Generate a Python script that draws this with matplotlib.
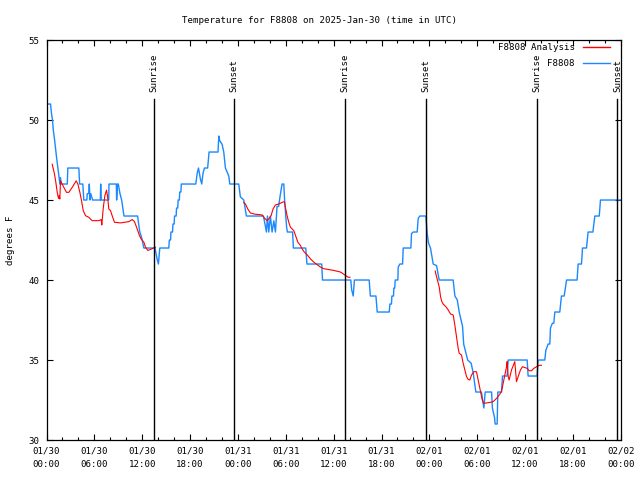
import matplotlib
matplotlib.use('Agg')
import pandas as pd
from matplotlib import pyplot, dates, transforms

# hours after 2025-01-30 00:00 UTC
start = pd.Timestamp('2025-01-30 00:00')

obs_hours = [
    0.0, 0.5, 0.6, 0.75, 0.84, 1.0, 1.13, 1.25, 1.38, 1.55, 1.67, 1.75, 1.85,
    2.6, 2.67, 4.05, 4.15, 4.55, 4.67, 5.05, 5.11, 5.3, 5.36, 5.45, 5.55, 5.78,
    6.75, 6.79, 6.85, 7.8, 7.83, 8.75, 8.79, 8.9, 9.0, 9.21, 9.42, 9.71,
    11.42, 11.6, 11.7, 11.9, 12.2, 13.6, 13.87, 14.03, 14.2,
    15.33, 15.4, 15.55, 15.6, 15.8, 15.85, 16.0, 16.05, 16.25, 16.3, 16.45,
    16.5, 16.65, 16.7, 16.85, 16.9,
    18.71, 18.9, 19.05, 19.3, 19.46, 19.63, 19.8, 20.2, 20.38,
    21.5, 21.6, 21.72, 22.0, 22.22, 22.43, 22.85, 22.98,
    24.1, 24.3, 24.73, 25.06, 27.2, 27.57, 27.7, 27.86, 28.07, 28.28, 28.5, 28.7,
    28.9, 29.1, 29.3, 29.53, 29.75, 29.85, 30.1, 30.2, 30.85, 30.95,
    32.5, 32.65, 34.5, 34.6, 38.15, 38.25, 38.45, 38.6,
    40.45, 40.6, 41.3, 41.46, 42.97, 43.05, 43.25, 43.3, 43.5, 43.55, 43.65,
    43.72, 44.05, 44.09, 44.3, 44.64, 44.72, 45.68, 45.76, 45.97, 46.47, 46.6,
    46.8, 47.56, 47.73, 47.9, 48.14, 48.48, 48.9, 49.23,
    50.98, 51.2, 51.5, 51.74, 52.16, 52.3, 52.8, 53.24, 53.49, 53.83,
    54.53, 54.83, 55.0, 55.8, 55.9, 56.17, 56.25, 56.5, 56.58, 57.04, 57.17,
    57.75, 57.88, 60.26, 60.38, 61.51, 61.64, 62.47, 62.6, 62.89, 63.1, 63.18,
    63.43, 63.6, 63.73, 64.35, 64.56, 64.9, 65.2, 66.52, 66.65, 67.07, 67.2,
    67.7, 67.9, 68.5, 68.74, 69.3, 69.45, 72.0,
]
obs_temp = [
    51, 51, 50.5, 50.0, 49.4, 48.8, 48.2, 47.7, 47.2, 46.5, 46.0, 46.4, 46.0,
    46.0, 47.0, 47.0, 46.0, 46.0, 45.0, 45.0, 45.4, 45.4, 46.0, 45.0, 45.4, 45.0,
    45.0, 46.0, 45.0, 45.0, 46.0, 46.0, 45.0, 46.0, 46.0, 45.4, 45.0, 44.0,
    44.0, 43.3, 43.0, 42.7, 42.0, 42.0, 41.3, 41.0, 42.0,
    42.0, 42.5, 42.5, 43.0, 43.0, 43.5, 43.5, 44.0, 44.0, 44.5, 44.5,
    45.0, 45.0, 45.5, 45.5, 46.0,
    46.0, 46.7, 47.0, 46.3, 46.0, 46.7, 47.0, 47.0, 48.0,
    48.0, 49.0, 48.7, 48.5, 48.0, 47.0, 46.5, 46.0,
    46.0, 45.2, 45.0, 44.0, 44.0, 43.0, 44.0, 43.0, 44.0, 43.0, 43.7, 43.0,
    44.6, 44.6, 45.3, 46.0, 46.0, 45.0, 43.3, 43.0, 43.0, 42.0,
    42.0, 41.0, 41.0, 40.0, 40.0, 39.4, 39.0, 40.0,
    40.0, 39.0, 39.0, 38.0, 38.0, 38.5, 38.5, 39.0, 39.0, 39.5, 39.5,
    40.0, 40.0, 40.8, 41.0, 41.0, 42.0, 42.0, 42.9, 43.0, 43.0, 43.85,
    44.0, 44.0, 42.9, 42.3, 42.0, 41.0, 40.9, 40.0,
    40.0, 39.0, 38.75, 38.0, 37.1, 36.0, 35.0, 34.8, 34.2, 33.0,
    33.0, 32.0, 33.0, 33.0, 32.0, 31.4, 31.0, 31.0, 33.0, 33.0, 34.0,
    34.0, 35.0, 35.0, 34.0, 34.0, 35.0, 35.0, 35.6, 36.0, 36.0, 37.0,
    37.3, 37.3, 38.0, 38.0, 39.0, 39.0, 40.0, 40.0, 41.0, 41.0, 42.0,
    42.0, 43.0, 43.0, 44.0, 44.0, 45.0, 45.0,
]

# analysis series, three night-time pieces
ana_hours = [
    [0.71, 1.0, 1.17, 1.34, 1.5, 1.59, 1.67, 1.75, 1.96, 2.17, 2.5, 2.8, 3.22,
     3.72, 3.93, 4.18, 4.39, 4.6, 4.89, 5.3, 5.72, 6.56, 6.85, 6.93, 7.1, 7.31,
     7.52, 7.64, 7.81, 8.02, 8.23, 8.52, 9.27, 10.32, 10.74, 11.03, 11.36,
     11.65, 11.86, 12.2, 12.41, 12.7, 13.03, 13.37, 13.66],
    [24.73, 24.94, 25.23, 25.56, 26.19, 27.03, 27.23, 27.65, 27.86, 28.15,
     28.4, 28.7, 29.11, 29.53, 29.82, 29.95, 30.16, 30.37, 30.58, 31.0, 31.29,
     31.5, 31.83, 32.04, 32.33, 32.67, 33.08, 33.5, 34.34, 34.75, 36.0, 36.84,
     36.99, 37.41, 37.83, 38.04],
    [48.73, 48.9, 49.23, 49.4, 49.56, 49.73, 50.07, 50.36, 50.65, 50.99, 51.19,
     51.4, 51.61, 51.74, 52.03, 52.24, 52.45, 52.66, 52.86, 53.07, 53.28, 53.58,
     53.91, 54.12, 54.33, 54.54, 54.66, 54.83, 55.58, 56.0, 56.42, 56.75, 57.04,
     57.25, 57.46, 57.67, 57.75, 57.88, 58.0, 58.3, 58.71, 58.92, 59.13, 59.42,
     59.67, 60.26, 60.51, 60.8, 61.1, 61.43, 61.76, 62.05],
]
ana_temp = [
    [47.24, 46.62, 46.1, 45.48, 45.1, 45.27, 45.06, 46.2, 46.0, 45.79, 45.48,
     45.48, 45.79, 46.2, 46.0, 45.48, 44.96, 44.34, 44.02, 43.92, 43.71, 43.71,
     43.78, 43.44, 44.44, 45.27, 45.62, 45.27, 44.44, 44.34, 44.02, 43.61,
     43.57, 43.65, 43.78, 43.65, 43.2, 42.78, 42.57, 42.37, 42.05, 41.85,
     41.91, 41.99, 42.05],
    [44.85, 44.75, 44.44, 44.19, 44.11, 44.07, 43.92, 43.71, 43.82, 44.02,
     44.44, 44.69, 44.75, 44.85, 44.9, 44.54, 44.02, 43.61, 43.3, 43.09, 42.68,
     42.37, 42.16, 41.95, 41.74, 41.58, 41.33, 41.12, 40.81, 40.71, 40.6, 40.5,
     40.46, 40.31, 40.17, 40.17],
    [40.56, 40.21, 39.58, 38.96, 38.65, 38.5, 38.33, 38.13, 37.88, 37.81, 37.19,
     36.46, 35.73, 35.42, 35.31, 34.79, 34.38, 33.96, 33.79, 33.75, 34.06, 34.27,
     34.27, 33.75, 33.23, 32.71, 32.46, 32.29, 32.35, 32.4, 32.6, 32.81, 33.02,
     33.54, 34.06, 34.58, 34.9, 33.96, 33.75, 34.38, 34.9, 33.65, 33.96, 34.38,
     34.58, 34.48, 34.33, 34.33, 34.48, 34.58, 34.67, 34.67],
]

sun_hours = [13.5, 23.55, 37.45, 47.58, 61.48, 71.58]
sun_names = ['Sunrise', 'Sunset', 'Sunrise', 'Sunset', 'Sunrise', 'Sunset']

ana_color = '#ff0000'
obs_color = '#1a88ff'


def to_time(hours):
    return start + pd.to_timedelta(hours, unit='h')


pyplot.rcParams['font.family'] = 'DejaVu Sans Mono'
pyplot.rcParams['font.size'] = 6.6

fig = pyplot.figure(figsize=(6.4, 4.8), dpi=100)
ax = fig.add_axes([0.0727, 0.0833, 0.8973, 0.8333])

ax.plot(to_time(obs_hours), obs_temp, color=obs_color, linewidth=1.0)
for hrs, vals in zip(ana_hours, ana_temp):
    ax.plot(to_time(hrs), vals, color=ana_color, linewidth=0.8)

ax.set_xlim(start, start + pd.Timedelta(hours=72))
ax.set_ylim(30, 55)
ax.set_yticks(range(30, 56, 5))

ax.xaxis.set_major_locator(dates.HourLocator(byhour=range(0, 24, 6)))
ax.xaxis.set_minor_locator(dates.HourLocator(byhour=range(0, 24, 2)))
ax.xaxis.set_major_formatter(dates.DateFormatter('%m/%d\n%H:%M'))

ax.tick_params(axis='both', which='both', direction='in', top=True, right=True, width=0.8)
ax.tick_params(axis='both', which='major', length=4, pad=5)
ax.tick_params(axis='x', which='minor', length=2)
for lab in ax.get_xticklabels():
    lab.set_linespacing(1.6)

for spine in ax.spines.values():
    spine.set_linewidth(0.9)

trans = transforms.blended_transform_factory(ax.transData, ax.transAxes)
for hrs, name in zip(sun_hours, sun_names):
    t = to_time(hrs)
    ax.axvline(t, ymin=0, ymax=0.853, color='black', linewidth=1.0)
    ax.text(t, 0.87, name, rotation=90, ha='center', va='bottom', transform=trans)

# legend, gnuplot style (text right aligned, key to the right)
ax.text(0.92, 0.9825, 'F8808 Analysis', ha='right', va='center', transform=ax.transAxes)
ax.plot([0.934, 0.981], [0.9825, 0.9825], color=ana_color, linewidth=1.0, transform=ax.transAxes)
ax.text(0.92, 0.9425, 'F8808', ha='right', va='center', transform=ax.transAxes)
ax.plot([0.934, 0.981], [0.9425, 0.9425], color=obs_color, linewidth=1.0, transform=ax.transAxes)

fig.text(0.5, 0.958, 'Temperature for F8808 on 2025-Jan-30 (time in UTC)', ha='center', va='center')
fig.text(0.016, 0.5, 'degrees F', rotation=90, ha='center', va='center')

fig.savefig('out.png', dpi=100)
